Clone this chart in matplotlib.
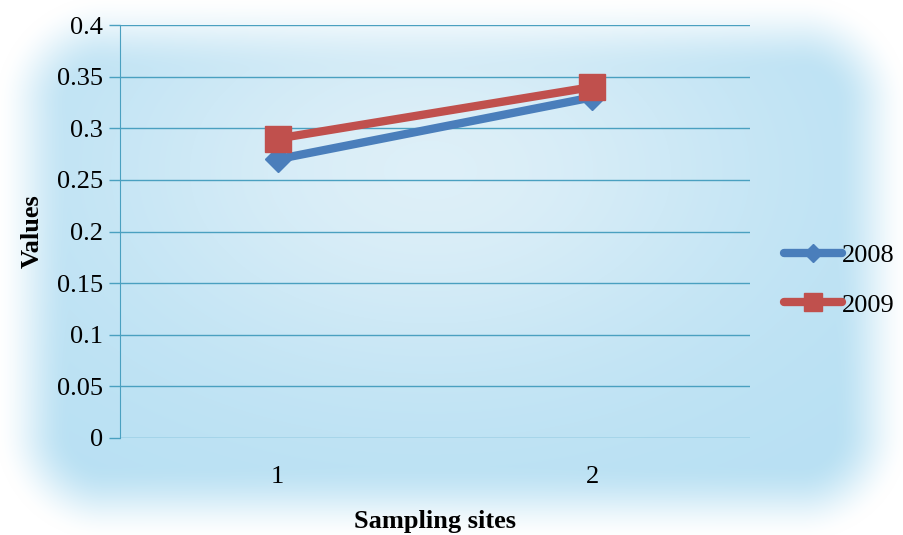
import matplotlib.pyplot as plt
import numpy as np

sites = [1, 2]
site_labels = ["1", "2"]
values_2008 = [0.27, 0.33]
values_2009 = [0.29, 0.34]
yticks = [0, 0.05, 0.1, 0.15, 0.2, 0.25, 0.3, 0.35, 0.4]
ytick_labels = ["0", "0.05", "0.1", "0.15", "0.2", "0.25", "0.3", "0.35", "0.4"]

W, H = 904, 535
plt.rcParams['font.family'] = ['Liberation Serif', 'DejaVu Serif']

fig = plt.figure(figsize=(W / 100, H / 100), dpi=100)

# soft blue glow background with rounded, faded edges
yy, xx = np.mgrid[0:H, 0:W].astype(float)
dx = np.minimum(xx + 5, W + 5 - xx)
dy = np.minimum(yy + 5, H + 5 - yy)
r = 110.0
corner = (dx < r) & (dy < r)
d = np.where(corner, r - np.hypot(r - dx, r - dy), np.minimum(dx, dy))
edge = np.clip(d / 75.0, 0, 1)
edge = edge * edge * (3 - 2 * edge)
glow = np.exp(-(((xx - 430) / 330.0) ** 2 + ((yy - 170) / 210.0) ** 2))
blue = np.array([184, 224, 243]) / 255.0
light = np.array([228, 242, 249]) / 255.0
g = 0.85 * glow[..., None]
inner = blue[None, None, :] * (1 - g) + light[None, None, :] * g
img = np.ones((H, W, 3)) * (1 - edge[..., None]) + inner * edge[..., None]
bg = fig.add_axes([0, 0, 1, 1], zorder=-1)
bg.imshow(img, aspect='auto', interpolation='bilinear')
bg.axis('off')

ax = fig.add_axes([120 / W, 1 - 438 / H, 630 / W, 413 / H])
ax.patch.set_alpha(0)

ax.plot(sites, values_2008, color='#4a7ebb', linewidth=6, marker='D',
        markersize=13, label='2008', solid_capstyle='round')
ax.plot(sites, values_2009, color='#c0504d', linewidth=6, marker='s',
        markersize=19, label='2009', solid_capstyle='round')

ax.set_xlim(0.5, 2.5)
ax.set_ylim(0, 0.4)
ax.set_yticks(yticks)
ax.set_yticklabels(ytick_labels, fontsize=19)
ax.set_xticks(sites)
ax.set_xticklabels(site_labels, fontsize=19)
ax.tick_params(axis='x', length=0, pad=20)
ax.tick_params(axis='y', length=8, color='#4aa0c0', width=1, pad=4)
ax.grid(axis='y', color='#4aa0c0', linewidth=1)
for s in ['top', 'right', 'bottom']:
    ax.spines[s].set_visible(False)
ax.spines['left'].set_color('#4aa0c0')
ax.set_axisbelow(True)

ax.set_ylabel("Values", fontsize=19, fontweight='bold', labelpad=10)
ax.set_xlabel("Sampling sites", fontsize=19, fontweight='bold', labelpad=16)

fig.legend(*ax.get_legend_handles_labels(), loc='center left',
           bbox_to_anchor=(784 / W, 1 - 280 / H), frameon=False,
           fontsize=19, handlelength=2.2, handletextpad=0.0, labelspacing=1.0,
           markerscale=0.7, borderpad=0, borderaxespad=0)

plt.savefig("out.png", dpi=100)
